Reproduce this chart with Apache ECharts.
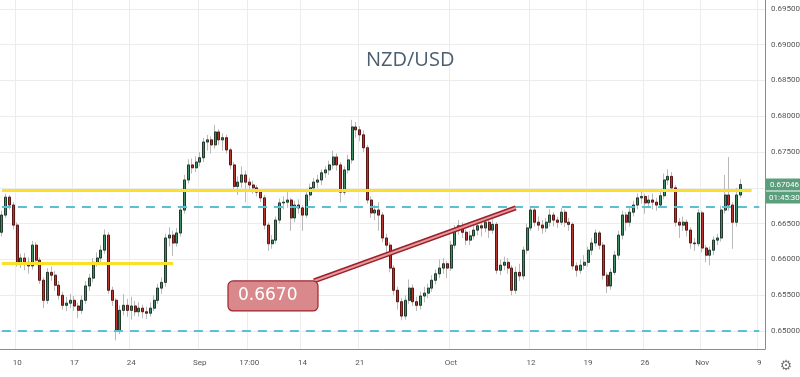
<!DOCTYPE html>
<html>
<head>
<meta charset="utf-8">
<script src="https://cdn.jsdelivr.net/npm/echarts@6/dist/echarts.min.js"></script>
<style>html,body{margin:0;padding:0;background:#fff;}#c{width:800px;height:377px;}</style>
</head>
<body>
<div id="c"></div>
<script>
// ---- data ----
const chartTitle = 'NZD/USD';
// [open, close, low, high] per 8h candle, first candle Aug 6 16:00
const ohlc = [
[0.6638,0.6662,0.6632,0.6668],[0.6662,0.6687,0.6658,0.6692],[0.6687,0.6676,0.6670,0.6690],[0.6676,0.6648,0.6642,0.6680],
[0.6648,0.6596,0.6590,0.6652],[0.6596,0.6602,0.6588,0.6608],[0.6602,0.6596,0.6585,0.6609],[0.6596,0.6591,0.6580,0.6603],
[0.6591,0.6620,0.6586,0.6626],[0.6620,0.6599,0.6594,0.6624],[0.6599,0.6571,0.6566,0.6603],[0.6571,0.6543,0.6532,0.6575],
[0.6543,0.6582,0.6538,0.6588],[0.6582,0.6578,0.6570,0.6590],[0.6578,0.6564,0.6556,0.6584],[0.6564,0.6550,0.6544,0.6570],
[0.6550,0.6536,0.6530,0.6555],[0.6536,0.6539,0.6528,0.6548],[0.6539,0.6543,0.6532,0.6552],[0.6543,0.6535,0.6528,0.6549],
[0.6535,0.6529,0.6518,0.6540],[0.6529,0.6543,0.6524,0.6550],[0.6543,0.6563,0.6538,0.6570],[0.6563,0.6574,0.6556,0.6580],
[0.6574,0.6596,0.6568,0.6602],[0.6596,0.6602,0.6590,0.6610],[0.6602,0.6613,0.6596,0.6620],[0.6613,0.6634,0.6608,0.6642],
[0.6634,0.6557,0.6552,0.6638],[0.6557,0.6543,0.6535,0.6562],[0.6543,0.6501,0.6487,0.6546],[0.6501,0.6529,0.6496,0.6536],
[0.6529,0.6536,0.6522,0.6552],[0.6536,0.6529,0.6520,0.6545],[0.6529,0.6535,0.6516,0.6548],[0.6535,0.6527,0.6521,0.6542],
[0.6527,0.6532,0.6520,0.6540],[0.6532,0.6527,0.6518,0.6537],[0.6527,0.6525,0.6517,0.6534],[0.6525,0.6532,0.6520,0.6540],
[0.6532,0.6543,0.6528,0.6550],[0.6543,0.6560,0.6538,0.6566],[0.6560,0.6568,0.6552,0.6575],[0.6568,0.6630,0.6562,0.6636],
[0.6630,0.6634,0.6618,0.6645],[0.6634,0.6623,0.6605,0.6640],[0.6623,0.6637,0.6618,0.6644],[0.6637,0.6669,0.6632,0.6675],
[0.6669,0.6711,0.6664,0.6718],[0.6711,0.6732,0.6706,0.6740],[0.6732,0.6728,0.6720,0.6741],[0.6728,0.6736,0.6722,0.6744],
[0.6736,0.6742,0.6730,0.6750],[0.6742,0.6764,0.6736,0.6770],[0.6764,0.6767,0.6752,0.6774],[0.6767,0.6760,0.6748,0.6772],
[0.6760,0.6778,0.6755,0.6788],[0.6778,0.6767,0.6760,0.6782],[0.6767,0.6770,0.6752,0.6776],[0.6770,0.6753,0.6748,0.6774],
[0.6753,0.6732,0.6726,0.6756],[0.6732,0.6702,0.6696,0.6736],[0.6702,0.6708,0.6690,0.6716],[0.6708,0.6718,0.6700,0.6730],
[0.6718,0.6708,0.6680,0.6724],[0.6708,0.6704,0.6696,0.6714],[0.6704,0.6700,0.6692,0.6710],[0.6700,0.6694,0.6688,0.6704],
[0.6694,0.6686,0.6680,0.6698],[0.6686,0.6648,0.6642,0.6690],[0.6648,0.6622,0.6612,0.6652],[0.6622,0.6627,0.6615,0.6634],
[0.6627,0.6655,0.6622,0.6660],[0.6655,0.6679,0.6650,0.6685],[0.6679,0.6680,0.6670,0.6688],[0.6680,0.6683,0.6672,0.6694],
[0.6683,0.6658,0.6640,0.6686],[0.6658,0.6676,0.6652,0.6682],[0.6676,0.6672,0.6664,0.6684],[0.6672,0.6662,0.6640,0.6676],
[0.6662,0.6690,0.6658,0.6696],[0.6690,0.6700,0.6682,0.6706],[0.6700,0.6708,0.6694,0.6714],[0.6708,0.6711,0.6700,0.6718],
[0.6711,0.6721,0.6704,0.6726],[0.6721,0.6725,0.6714,0.6730],[0.6725,0.6732,0.6718,0.6738],[0.6732,0.6743,0.6726,0.6752],
[0.6743,0.6732,0.6724,0.6748],[0.6732,0.6694,0.6680,0.6736],[0.6694,0.6725,0.6690,0.6730],[0.6725,0.6739,0.6720,0.6746],
[0.6739,0.6785,0.6734,0.6795],[0.6785,0.6781,0.6770,0.6792],[0.6781,0.6774,0.6765,0.6786],[0.6774,0.6756,0.6750,0.6780],
[0.6756,0.6683,0.6678,0.6760],[0.6683,0.6665,0.6658,0.6688],[0.6665,0.6669,0.6655,0.6676],[0.6669,0.6662,0.6640,0.6680],
[0.6662,0.6630,0.6624,0.6666],[0.6630,0.6620,0.6610,0.6636],[0.6620,0.6588,0.6582,0.6624],[0.6588,0.6557,0.6550,0.6592],
[0.6557,0.6541,0.6530,0.6562],[0.6541,0.6521,0.6515,0.6546],[0.6521,0.6543,0.6516,0.6550],[0.6543,0.6560,0.6538,0.6572],
[0.6560,0.6541,0.6535,0.6565],[0.6541,0.6536,0.6528,0.6548],[0.6536,0.6549,0.6530,0.6555],[0.6549,0.6553,0.6540,0.6562],
[0.6553,0.6560,0.6546,0.6566],[0.6560,0.6571,0.6555,0.6578],[0.6571,0.6580,0.6565,0.6586],[0.6580,0.6588,0.6574,0.6600],
[0.6588,0.6594,0.6580,0.6602],[0.6594,0.6588,0.6574,0.6598],[0.6588,0.6620,0.6584,0.6626],[0.6620,0.6641,0.6615,0.6648],
[0.6641,0.6647,0.6635,0.6655],[0.6647,0.6638,0.6630,0.6652],[0.6638,0.6627,0.6620,0.6642],[0.6627,0.6633,0.6620,0.6640],
[0.6633,0.6641,0.6628,0.6650],[0.6641,0.6647,0.6634,0.6654],[0.6647,0.6644,0.6632,0.6656],[0.6644,0.6652,0.6638,0.6658],
[0.6652,0.6641,0.6630,0.6656],[0.6641,0.6649,0.6636,0.6656],[0.6649,0.6585,0.6580,0.6652],[0.6585,0.6592,0.6578,0.6600],
[0.6592,0.6596,0.6585,0.6604],[0.6596,0.6588,0.6580,0.6602],[0.6588,0.6557,0.6550,0.6592],[0.6557,0.6582,0.6552,0.6590],
[0.6582,0.6577,0.6570,0.6594],[0.6577,0.6613,0.6572,0.6618],[0.6613,0.6644,0.6608,0.6650],[0.6644,0.6669,0.6640,0.6674],
[0.6669,0.6652,0.6646,0.6672],[0.6652,0.6648,0.6640,0.6660],[0.6648,0.6644,0.6636,0.6655],[0.6644,0.6652,0.6638,0.6658],
[0.6652,0.6662,0.6646,0.6670],[0.6662,0.6655,0.6646,0.6666],[0.6655,0.6652,0.6644,0.6660],[0.6652,0.6666,0.6648,0.6672],
[0.6666,0.6652,0.6645,0.6670],[0.6652,0.6649,0.6640,0.6658],[0.6649,0.6591,0.6586,0.6652],[0.6591,0.6585,0.6576,0.6596],
[0.6585,0.6592,0.6580,0.6600],[0.6592,0.6596,0.6586,0.6606],[0.6596,0.6613,0.6590,0.6618],[0.6613,0.6623,0.6606,0.6630],
[0.6623,0.6637,0.6618,0.6642],[0.6637,0.6620,0.6614,0.6640],[0.6620,0.6578,0.6572,0.6624],[0.6578,0.6563,0.6553,0.6582],
[0.6563,0.6582,0.6558,0.6588],[0.6582,0.6606,0.6578,0.6612],[0.6606,0.6634,0.6600,0.6640],[0.6634,0.6662,0.6628,0.6668],
[0.6662,0.6652,0.6640,0.6666],[0.6652,0.6666,0.6646,0.6672],[0.6666,0.6676,0.6660,0.6682],[0.6676,0.6686,0.6670,0.6692],
[0.6686,0.6688,0.6678,0.6696],[0.6688,0.6679,0.6664,0.6692],[0.6679,0.6683,0.6672,0.6690],[0.6683,0.6680,0.6670,0.6692],
[0.6680,0.6676,0.6668,0.6686],[0.6676,0.6689,0.6672,0.6695],[0.6689,0.6711,0.6684,0.6720],[0.6711,0.6716,0.6704,0.6726],
[0.6716,0.6700,0.6694,0.6722],[0.6700,0.6652,0.6646,0.6704],[0.6652,0.6648,0.6630,0.6658],[0.6648,0.6652,0.6640,0.6660],
[0.6652,0.6641,0.6632,0.6656],[0.6641,0.6623,0.6615,0.6645],[0.6623,0.6622,0.6612,0.6630],[0.6622,0.6665,0.6618,0.6670],
[0.6665,0.6616,0.6610,0.6668],[0.6616,0.6606,0.6596,0.6620],[0.6606,0.6613,0.6592,0.6618],[0.6613,0.6627,0.6606,0.6632],
[0.6627,0.6630,0.6620,0.6636],[0.6630,0.6669,0.6625,0.6675],[0.6669,0.6690,0.6664,0.6718],[0.6690,0.6676,0.6668,0.6743],
[0.6676,0.6652,0.6615,0.6680],[0.6652,0.6690,0.6646,0.6700],[0.6690,0.67046,0.6686,0.6712]
];
const lastPrice = 0.67046;
const countdown = '01:45:30';
const resistanceLevel = 0.6696;   // long yellow line
const supportLevel = 0.6595;      // short yellow line
const dashedLevels = [0.6674, 0.6500];
const calloutText = '0.6670';
const trendStart = [82, 0.6570];
const trendEnd = [135, 0.6672];
const tickDates = ['2020-08-10 00:00','2020-08-17 00:00','2020-08-24 00:00','2020-09-01 00:00','2020-09-07 08:00','2020-09-14 00:00','2020-09-21 00:00','2020-10-01 00:00','2020-10-12 00:00','2020-10-19 00:00','2020-10-26 00:00','2020-11-02 00:00','2020-11-09 00:00'];
const tickLabels = ['10','17','24','Sep','17:00','14','21','Oct','12','19','26','Nov','9'];

// ---- categories: 8h slots over trading days, starting Aug 6 16:00 ----
const totalSlots = 201;
const days = [];
let t = Date.UTC(2020, 7, 6);
while (days.length < 70) {
  const d = new Date(t);
  const wd = d.getUTCDay();
  if (wd !== 0 && wd !== 6) days.push(d);
  t += 86400000;
}
const pad = n => (n < 10 ? '0' : '') + n;
const categories = [];
for (let i = 0; i < totalSlots; i++) {
  const k = i + 2;
  const d = days[Math.floor(k / 3)];
  const h = (k % 3) * 8;
  categories.push(d.getUTCFullYear() + '-' + pad(d.getUTCMonth() + 1) + '-' + pad(d.getUTCDate()) + ' ' + pad(h) + ':00');
}
const labelMap = {};
tickDates.forEach((d, i) => { labelMap[d] = tickLabels[i]; });
const isTick = (idx, val) => labelMap[val] !== undefined;

const bodies = ohlc.map(r => [r[0], r[1], Math.min(r[0], r[1]), Math.max(r[0], r[1])]);

const chart = echarts.init(document.getElementById('c'), null, {renderer: 'canvas'});
const axisFont = 'Roboto';

const option = {
  animation: false,
  backgroundColor: '#ffffff',
  grid: {left: 0, right: 35, top: 0, bottom: 28, containLabel: false, outerBoundsMode: 'none'},
  xAxis: {
    type: 'category',
    data: categories,
    boundaryGap: true,
    axisLine: {show: true, lineStyle: {color: '#8c8c8c', width: 1}},
    axisTick: {show: false},
    axisLabel: {interval: isTick, formatter: v => labelMap[v] || '', color: '#555', fontSize: 8, margin: 10, fontFamily: axisFont, hideOverlap: false},
    splitLine: {show: true, interval: isTick, lineStyle: {color: '#ececec', width: 1}}
  },
  yAxis: {
    type: 'value',
    position: 'right',
    min: 0.6475,
    max: 0.69623,
    interval: 0.0025,
    axisLine: {show: true, lineStyle: {color: '#8c8c8c', width: 1}},
    axisTick: {show: false},
    axisLabel: {
      showMaxLabel: false,
      color: '#555', fontSize: 8, margin: 6, fontFamily: axisFont,
      formatter: v => {
        const r = v / 0.005;
        if (Math.abs(v - 0.67) < 1e-6) return '';
        return Math.abs(r - Math.round(r)) < 1e-6 ? v.toFixed(5) : '';
      }
    },
    splitLine: {show: true, lineStyle: {color: ['rgba(0,0,0,0)', '#ececec'], width: 1}}
  },
  series: [
    {
      name: 'wicks', type: 'candlestick', data: ohlc, barWidth: '66%', z: 2,
      itemStyle: {color: 'rgba(0,0,0,0)', color0: 'rgba(0,0,0,0)', borderColor: '#b9b9b9', borderColor0: '#b9b9b9', borderWidth: 1},
      silent: true
    },
    {
      name: 'bodies', type: 'candlestick', data: bodies, barWidth: '66%', z: 3,
      itemStyle: {color: '#3f8d63', color0: '#b8342f', borderColor: '#1f3a2c', borderColor0: '#5c1714', borderWidth: 1},
      silent: true,
      markLine: {
        silent: true, symbol: 'none', label: {show: false}, animation: false,
        data: [
          [{coord: [0, resistanceLevel], lineStyle: {color: '#fbe02b', width: 3, type: 'solid'}}, {coord: [197, resistanceLevel]}],
          [{coord: [0, supportLevel], lineStyle: {color: '#fbe02b', width: 3, type: 'solid'}}, {coord: [45, supportLevel]}],
          [{coord: [0, dashedLevels[0]], lineStyle: {color: '#5cc0d4', width: 2, type: [9, 7]}}, {coord: [199, dashedLevels[0]]}],
          [{coord: [0, dashedLevels[1]], lineStyle: {color: '#5cc0d4', width: 2, type: [9, 7]}}, {coord: [199, dashedLevels[1]]}]
        ]
      }
    },
    {
      name: 'trendOuter', type: 'line', data: [trendStart, trendEnd], symbol: 'none', z: 5, silent: true,
      lineStyle: {color: '#9d1f2a', width: 5}
    },
    {
      name: 'trendInner', type: 'line', data: [trendStart, trendEnd], symbol: 'none', z: 6, silent: true,
      lineStyle: {color: '#e39a9c', width: 2}
    }
  ]
};
chart.setOption(option);

const py = chart.convertToPixel({yAxisIndex: 0}, lastPrice);
const sp = chart.convertToPixel({xAxisIndex: 0, yAxisIndex: 0}, trendStart);
chart.setOption({
  graphic: [
    {type: 'text', left: 410 - 44, top: 50, style: {text: chartTitle, fill: '#4b5e70', font: '20px "Open Sans", "DejaVu Sans", sans-serif'}, z: 10},
    {type: 'rect', shape: {x: sp[0] - 86, y: sp[1], width: 90, height: 30, r: 5}, style: {fill: '#d9898c', stroke: '#a0232d', lineWidth: 1.2}, z: 20},
    {type: 'text', x: sp[0] - 76, y: sp[1] + 15, style: {text: calloutText, fill: '#ffffff', font: '17px "DejaVu Sans", sans-serif', textVerticalAlign: 'middle'}, z: 21},
    {type: 'rect', shape: {x: 766, y: py - 6, width: 34, height: 12}, style: {fill: '#5a9e7c'}, z: 20},
    {type: 'rect', shape: {x: 766, y: py + 7, width: 34, height: 12}, style: {fill: '#5a9e7c'}, z: 20},
    {type: 'text', x: 770, y: py, style: {text: lastPrice.toFixed(5), fill: '#ffffff', font: '8px Roboto, sans-serif', textVerticalAlign: 'middle'}, z: 21},
    {type: 'text', x: 769, y: py + 13, style: {text: countdown, fill: '#ffffff', font: '8px Roboto, sans-serif', textVerticalAlign: 'middle'}, z: 21},
    {type: 'text', x: 786, y: 366, style: {text: '\u2699', fill: '#777', font: '14px "DejaVu Sans", sans-serif', textAlign: 'center', textVerticalAlign: 'middle'}, z: 21}
  ]
});
</script>
</body>
</html>
